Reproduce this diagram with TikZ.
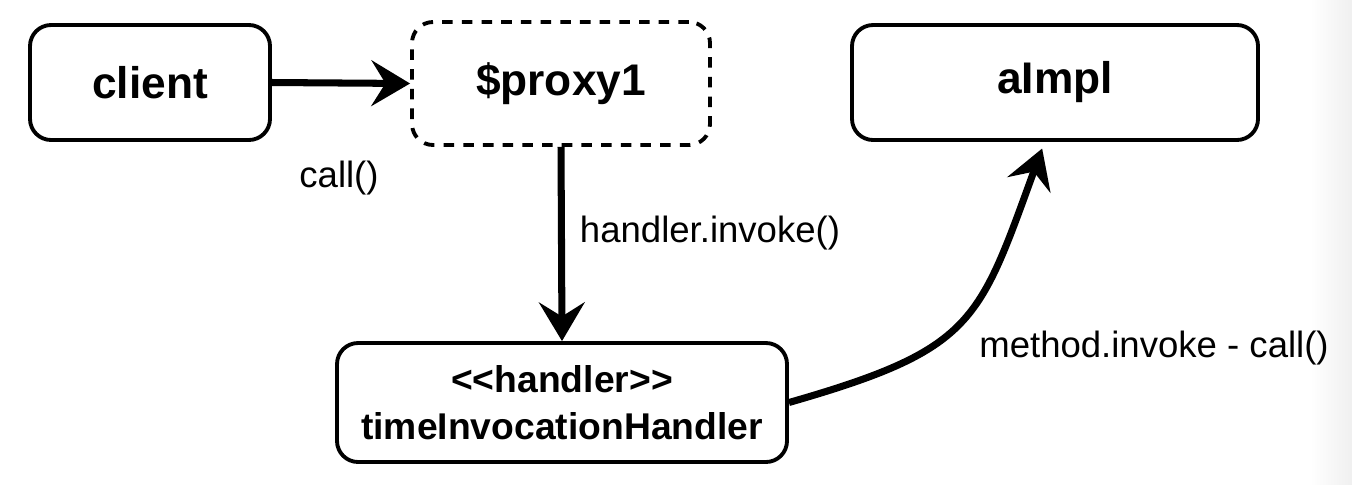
\documentclass[tikz,border=0pt]{standalone}
\usepackage{fontspec}
\setmainfont{Liberation Sans}
\usetikzlibrary{arrows.meta,positioning}

\begin{document}
\begin{tikzpicture}[
    objbox/.style={draw, line width=1.1pt, rounded corners=6pt, align=center,
        font=\bfseries\fontsize{12.6}{15}\selectfont},
    flow/.style={line width=2pt, -{Stealth[length=11pt, width=13pt, inset=4pt]}},
    msg/.style={font=\fontsize{10.4}{12}\selectfont}
]
    % canvas
    \useasboundingbox (0,0) rectangle (13.52,4.84);
    \shade[left color=white, right color=black!6] (13.10,0) rectangle (13.52,4.84);

    % objects
    \node[objbox, minimum width=2.40cm, minimum height=1.15cm] (client) at (1.50,4.015) {client};
    \node[objbox, dash pattern=on 3pt off 2.6pt, minimum width=2.98cm, minimum height=1.23cm] (proxy) at (5.61,4.005) {\$proxy1};
    \node[objbox, minimum width=4.06cm, minimum height=1.15cm] (aimpl) at (10.55,4.015) {aImpl};
    \node[objbox, font=\bfseries\fontsize{10.6}{13.3}\selectfont, minimum width=4.50cm, minimum height=1.19cm] (handler) at (5.62,0.815)
        {<\kern0pt<handler>\kern0pt>\\timeInvocationHandler};

    % calls
    \draw[flow] (client.east) -- (proxy.west);
    \node[msg] (callmsg) at (3.39,3.06) {call()};

    \draw[flow] (proxy.south) -- (handler.north);
    \node[msg] (invokemsg) at (7.10,2.51) {handler.invoke()};

    \draw[flow, shorten >=0.07cm] (handler.east) to[out=16, in=-110, looseness=1.35] (aimpl.-100);
    \node[msg] (methodmsg) at (11.54,1.36) {method.invoke - call()};
\end{tikzpicture}
\end{document}
